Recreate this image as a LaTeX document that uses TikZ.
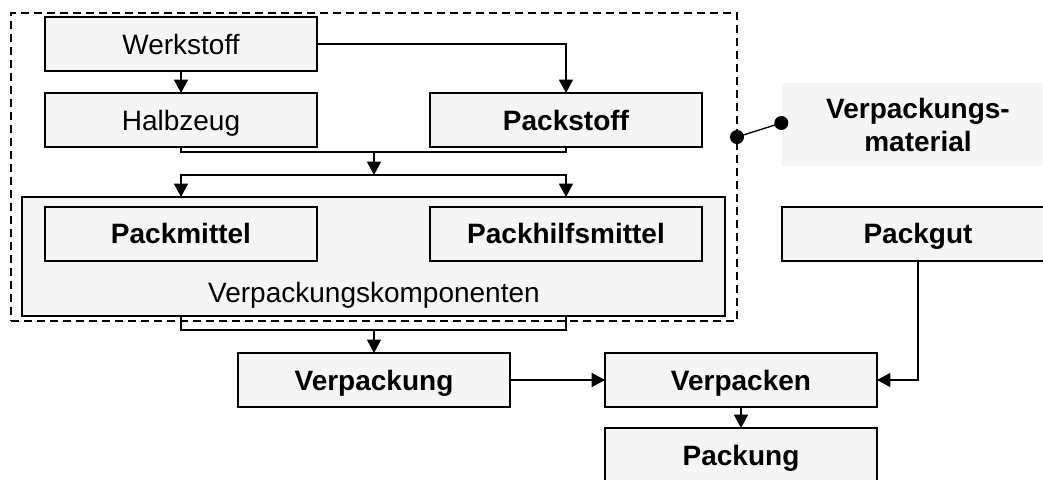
\documentclass[tikz,border=0pt]{standalone}
\usepackage{fontspec}
\setmainfont{Liberation Sans}
\usepackage{xcolor}
\usetikzlibrary{positioning,arrows.meta}
\definecolor{boxgray}{RGB}{244,245,244}

\begin{document}
\begin{tikzpicture}[x=0.75pt,y=-0.75pt,
					>={Triangle[width=10.5pt,length=10pt]},
					line width=1pt,
					font=\fontsize{21}{24.75}\selectfont,
					box node/.style={draw,line width=1.5pt,fill=boxgray,outer sep=0pt,
						minimum width=204pt,minimum height=40.5pt,inner sep=0pt,
						text height=15pt,text depth=0pt},
					bold node/.style={box node,font=\fontsize{21}{24.75}\selectfont\bfseries},
					group node/.style={draw,line width=1.5pt,fill=boxgray,outer sep=0pt,
						minimum width=527.25pt,minimum height=89.25pt},
					frame node/.style={draw,line width=1.5pt,dash pattern=on 6pt off 3.75pt,
						minimum width=544.5pt,minimum height=231pt,outer sep=0pt}]

  \useasboundingbox (0,0) rectangle (1043,479);

  % Verpackungsmaterial
  \node[frame node] (frame) at (374,167) {};
  \node[group node] (komponenten) at (373.5,256.5) {};

  \node[box node] (werkstoff) at (181,44) {Werkstoff};
  \node[box node] (halbzeug) [below=16.5pt of werkstoff] {Halbzeug};
  \node[bold node] (packstoff) [right=84.75pt of halbzeug] {Packstoff};

  \node[bold node] (packmittel) at (181,233.5) {Packmittel};
  \node[bold node] (packhilfsmittel) [right=84.75pt of packmittel] {Packhilfsmittel};
  \node[text height=15pt,text depth=0pt,inner sep=0pt] (komplabel) at (374,292)
        {Verpackungskomponenten};

  \node[fill=boxgray,minimum width=204pt,minimum height=62.25pt,align=center,
        font=\fontsize{21}{24.75}\selectfont\bfseries] (material) at (918,124.5)
        {Verpackungs-\\material};

  % Verpacken
  \node[bold node] (verpackung) at (374,380) {Verpackung};
  \node[bold node] (verpacken) [right=71.25pt of verpackung] {Verpacken};
  \node[bold node] (packung) [below=15.75pt of verpacken] {Packung};
  \node[bold node] (packgut) at (918,233.5) {Packgut};

  \coordinate (merge1) at (374,152);
  \coordinate (split1) at (374,175);
  \coordinate (merge2) at (374,330);
  \coordinate (framedot) at (frame.east |- 0,137);
  \coordinate (materialdot) at (material.west |- 0,123);

  \draw[->] (werkstoff) -- (halbzeug);
  \draw[->] (werkstoff) -| (packstoff);
  \draw (halbzeug.south) |- (merge1) -| (packstoff.south);
  \draw[->] (merge1) -- (split1);
  \draw[->] (split1) -| (packmittel.north |- komponenten.north);
  \draw[->] (split1) -| (packhilfsmittel.north |- komponenten.north);
  \draw (packmittel.south |- komponenten.south) |- (merge2)
        -| (packhilfsmittel.south |- komponenten.south);
  \draw[->] (merge2) -- (verpackung);
  \draw[->] (verpackung) -- (verpacken);
  \draw[->] (packgut) |- (verpacken);
  \draw[->] (verpacken) -- (packung);

  \draw (framedot) -- (materialdot);
  \fill (framedot) circle[radius=5.25pt];
  \fill (materialdot) circle[radius=5.25pt];
\end{tikzpicture}
\end{document}
